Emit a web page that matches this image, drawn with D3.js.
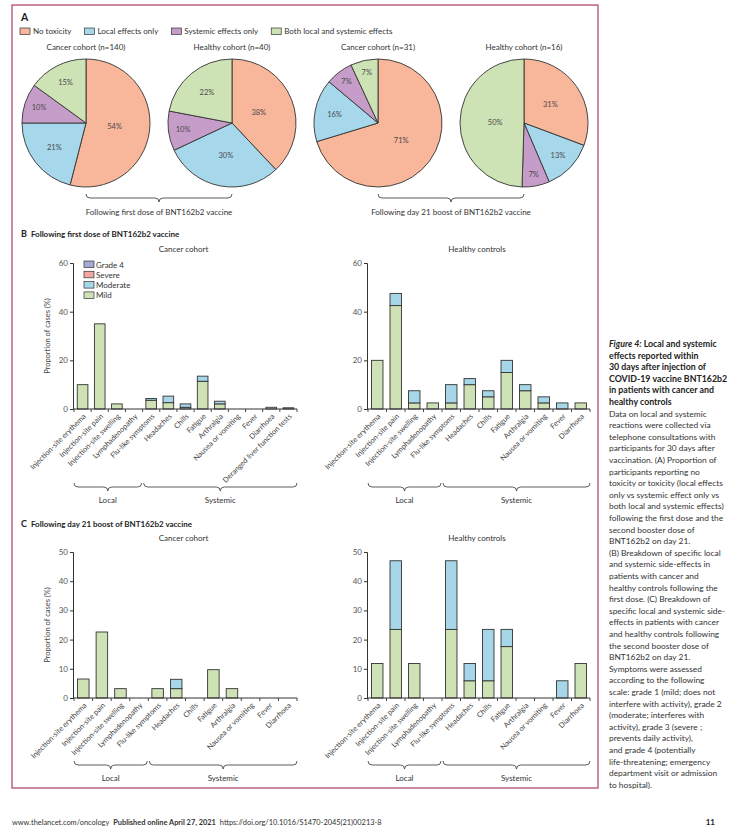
<!DOCTYPE html>
<html>
<head>
<meta charset="utf-8">
<script src="https://cdn.jsdelivr.net/npm/d3@7"></script>
<style>
  body { margin: 0; background: #fff; }
  svg text { font-family: Lato, "Open Sans", sans-serif; }
</style>
</head>
<body>
<svg id="fig" width="740" height="839"></svg>
<script>
// ---- data ----
const pieCategories = ['No toxicity', 'Local effects only', 'Systemic effects only', 'Both local and systemic effects'];
const pieTitles = ['Cancer cohort (n=140)', 'Healthy cohort (n=40)', 'Cancer cohort (n=31)', 'Healthy cohort (n=16)'];
const pieCancerFirst = [54, 21, 10, 15];
const pieHealthyFirst = [38, 30, 10, 22];
const pieCancerBoost = [71, 16, 7, 7];
const pieHealthyBoost = [31, 13, 7, 50];
const doseLabels = ['Following first dose of BNT162b2 vaccine', 'Following day 21 boost of BNT162b2 vaccine'];

const grades = ['Grade 4', 'Severe', 'Moderate', 'Mild'];
const groups = ['Local', 'Systemic'];

const symptomsWithLiver = ['Injection-site erythema', 'Injection-site pain', 'Injection-site swelling', 'Lymphadenopathy',
  'Flu-like symptoms', 'Headaches', 'Chills', 'Fatigue', 'Arthralgia', 'Nausea or vomiting', 'Fever', 'Diarrhoea',
  'Deranged liver function tests'];
const symptoms = ['Injection-site erythema', 'Injection-site pain', 'Injection-site swelling', 'Lymphadenopathy',
  'Flu-like symptoms', 'Headaches', 'Chills', 'Fatigue', 'Arthralgia', 'Nausea or vomiting', 'Fever', 'Diarrhoea'];
const localCount = 4;

const firstCancerMild     = [10, 35, 2.1, 0, 3.6, 2.6, 0.7, 11.4, 2.1, 0, 0, 0.7, 0.5];
const firstCancerModerate = [0, 0, 0, 0, 0.7, 2.7, 1.4, 2.1, 1.1, 0, 0, 0, 0];
const firstHealthyMild     = [20, 42.5, 2.5, 2.5, 2.5, 10, 5, 15, 7.5, 2.5, 0, 2.5];
const firstHealthyModerate = [0, 5, 5, 0, 7.5, 2.5, 2.5, 5, 2.5, 2.5, 2.5, 0];
const boostCancerMild     = [6.5, 22.6, 3.2, 0, 3.2, 3.2, 0, 9.7, 3.2, 0, 0, 0];
const boostCancerModerate = [0, 0, 0, 0, 0, 3.2, 0, 0, 0, 0, 0, 0];
const boostHealthyMild     = [11.8, 23.5, 11.8, 0, 23.5, 5.9, 5.9, 17.6, 0, 0, 0, 11.8];
const boostHealthyModerate = [0, 23.5, 0, 0, 23.5, 5.9, 17.6, 5.9, 0, 0, 5.9, 0];

const captionTitle = ['Figure 4: Local and systemic', 'effects reported within', '30 days after injection of',
  'COVID-19 vaccine BNT162b2', 'in patients with cancer and', 'healthy controls'];
const captionBody = ['Data on local and systemic', 'reactions were collected via', 'telephone consultations with',
  'participants for 30 days after', 'vaccination. (A) Proportion of', 'participants reporting no',
  'toxicity or toxicity (local effects', 'only vs systemic effect only vs', 'both local and systemic effects)',
  'following the first dose and the', 'second booster dose of', 'BNT162b2 on day 21.',
  '(B) Breakdown of specific local', 'and systemic side-effects in', 'patients with cancer and',
  'healthy controls following the', 'first dose. (C) Breakdown of', 'specific local and systemic side-',
  'effects in patients with cancer', 'and healthy controls following', 'the second booster dose of',
  'BNT162b2 on day 21.', 'Symptoms were assessed', 'according to the following',
  'scale: grade 1 (mild; does not', 'interfere with activity), grade 2', '(moderate; interferes with',
  'activity), grade 3 (severe ;', 'prevents daily activity),', 'and grade 4 (potentially',
  'life-threatening; emergency', 'department visit or admission', 'to hospital).'];

// ---- styling ----
const pieColors = ['#f8b69a', '#a6d7ea', '#c59dc8', '#cee3b5'];
const gradeColor = d3.scaleOrdinal().domain(grades).range(['#a5aad4', '#f2a7a1', '#a7d6e9', '#cfe2b6']);
const ink = '#333';

const svg = d3.select('#fig');

svg.append('rect')
  .attr('x', 12).attr('y', 5).attr('width', 586).attr('height', 783)
  .attr('fill', 'none').attr('stroke', '#b9587f').attr('stroke-width', 1.4);

// curly brace opening upward, tip pointing down
function brace(g, x0, x1, y) {
  let m = (x0 + x1) / 2, c = 4;
  let p = d3.path();
  p.moveTo(x0, y - c);
  p.quadraticCurveTo(x0, y, x0 + c, y);
  p.lineTo(m - c, y);
  p.quadraticCurveTo(m, y, m, y + c);
  p.quadraticCurveTo(m, y, m + c, y);
  p.lineTo(x1 - c, y);
  p.quadraticCurveTo(x1, y, x1, y - c);
  g.append('path').attr('d', p.toString())
    .attr('fill', 'none').attr('stroke', ink).attr('stroke-width', 0.8);
}

// ---- panel A ----
svg.append('text').text('A')
  .attr('x', 21).attr('y', 21)
  .attr('font-size', 10.5).attr('font-weight', 'bold').attr('fill', '#222');

let legendX = 20;
pieCategories.forEach((c, i) => {
  svg.append('rect')
    .attr('x', legendX).attr('y', 28).attr('width', 10).attr('height', 6.5)
    .attr('fill', pieColors[i]).attr('stroke', ink).attr('stroke-width', 0.7);
  let t = svg.append('text').text(c)
    .attr('x', legendX + 13).attr('y', 34)
    .attr('font-size', 8).attr('fill', ink);
  legendX += 13 + t.node().getComputedTextLength() + 13;
});

const pieData = [pieCancerFirst, pieHealthyFirst, pieCancerBoost, pieHealthyBoost];
const pieR = 64, pieCy = 123;
const pieX = d3.scalePoint().domain(d3.range(pieData.length)).range([86, 524]);
const pie = d3.pie().sort(null).value(d => d);
const arc = d3.arc().innerRadius(0).outerRadius(pieR);

pieData.forEach((values, i) => {
  let total = d3.sum(values);
  let g = svg.append('g').attr('transform', 'translate(' + pieX(i) + ',' + pieCy + ')');

  g.append('text').text(pieTitles[i])
    .attr('x', 0).attr('y', -pieR - 9)
    .attr('text-anchor', 'middle').attr('font-size', 8).attr('fill', ink);

  let slices = pie(values);
  g.selectAll('path')
    .data(slices)
    .enter().append('path')
    .attr('d', arc)
    .attr('fill', (d, j) => pieColors[j])
    .attr('stroke', ink).attr('stroke-width', 0.9);

  g.selectAll('text.pct')
    .data(slices)
    .enter().append('text')
    .attr('class', 'pct')
    .text(d => d.value + '%')
    .attr('transform', d => {
      let frac = d.value / total;
      let rl = pieR * Math.max(0.45, 0.9 - 1.3 * frac);
      let a = (d.startAngle + d.endAngle) / 2;
      return 'translate(' + (Math.sin(a) * rl) + ',' + (-Math.cos(a) * rl) + ')';
    })
    .attr('dy', '0.35em')
    .attr('text-anchor', 'middle').attr('font-size', 7.5).attr('fill', '#4a4a4a');
});

doseLabels.forEach((label, k) => {
  let x0 = pieX(2 * k), x1 = pieX(2 * k + 1);
  brace(svg, x0, x1, 198);
  svg.append('text').text(label)
    .attr('x', (x0 + x1) / 2).attr('y', 215)
    .attr('text-anchor', 'middle').attr('font-size', 8).attr('fill', ink);
});

// ---- panels B and C ----
function panelHeading(letter, text, y) {
  let t = svg.append('text').attr('x', 21).attr('y', y)
    .attr('font-size', 8).attr('font-weight', 'bold').attr('fill', '#222');
  t.append('tspan').text(letter).attr('font-size', 9);
  t.append('tspan').text(' ' + text).attr('dx', 2);
}

function barChart(opts) {
  let rows = opts.categories.map((c, i) => ({
    name: c, Mild: opts.mild[i], Moderate: opts.moderate[i], Severe: 0, 'Grade 4': 0
  }));
  let x = d3.scaleBand().domain(opts.categories)
    .range([opts.x0, opts.x1]).paddingInner(0.38).paddingOuter(0.19);
  let y = d3.scaleLinear().domain([0, opts.max]).range([opts.yBottom, opts.yTop]);
  let g = svg.append('g');

  g.append('text').text(opts.title)
    .attr('x', (opts.x0 + opts.x1) / 2 - 2).attr('y', opts.yTop - 11)
    .attr('text-anchor', 'middle').attr('font-size', 8).attr('fill', ink);

  let stack = d3.stack().keys(['Mild', 'Moderate', 'Severe', 'Grade 4'])(rows);
  g.selectAll('g.layer')
    .data(stack)
    .enter().append('g')
    .attr('class', 'layer')
    .attr('fill', d => gradeColor(d.key))
    .selectAll('rect')
    .data(d => d.filter(s => s[1] - s[0] > 0))
    .enter().append('rect')
    .attr('x', d => x(d.data.name))
    .attr('width', x.bandwidth())
    .attr('y', d => y(d[1]))
    .attr('height', d => y(d[0]) - y(d[1]))
    .attr('stroke', ink).attr('stroke-width', 0.9);

  let yAxis = g.append('g')
    .attr('transform', 'translate(' + (opts.x0 - 1) + ',0)')
    .call(d3.axisLeft(y).tickValues(d3.range(0, opts.max + 1, opts.step)).tickSize(3).tickPadding(2));
  yAxis.select('.domain').attr('stroke', ink);
  yAxis.selectAll('.tick line').attr('stroke', ink);
  yAxis.selectAll('.tick text').attr('font-size', 8).attr('fill', '#555')
    .attr('font-family', 'Lato, sans-serif');

  // x axis line with ticks at band boundaries
  g.append('line')
    .attr('x1', opts.x0 - 1).attr('x2', opts.x1)
    .attr('y1', opts.yBottom).attr('y2', opts.yBottom)
    .attr('stroke', ink).attr('stroke-width', 1);
  g.selectAll('line.xtick')
    .data(d3.range(opts.categories.length + 1))
    .enter().append('line')
    .attr('class', 'xtick')
    .attr('x1', i => opts.x0 + i * x.step()).attr('x2', i => opts.x0 + i * x.step())
    .attr('y1', opts.yBottom).attr('y2', opts.yBottom + 3)
    .attr('stroke', ink).attr('stroke-width', 0.9);

  g.selectAll('text.xlab')
    .data(opts.categories)
    .enter().append('text')
    .attr('class', 'xlab')
    .text(d => d)
    .attr('transform', d => 'translate(' + (x(d) + x.bandwidth() / 2 + 2) + ',' + (opts.yBottom + 6) + ') rotate(-45)')
    .attr('dy', '0.35em')
    .attr('text-anchor', 'end').attr('font-size', 7.4).attr('fill', '#444');

  if (opts.yLabel) {
    g.append('text').text('Proportion of cases (%)')
      .attr('transform', 'translate(' + (opts.x0 - 24) + ',' + ((opts.yTop + opts.yBottom) / 2) + ') rotate(-90)')
      .attr('text-anchor', 'middle').attr('font-size', 7.5).attr('fill', '#444');
  }

  if (opts.legend) {
    let lg = g.append('g').attr('transform', 'translate(' + (opts.x0 + 10) + ',' + (opts.yTop - 2) + ')');
    grades.forEach((gr, i) => {
      lg.append('rect')
        .attr('x', 0).attr('y', i * 10.3).attr('width', 10).attr('height', 6.5)
        .attr('fill', gradeColor(gr)).attr('stroke', ink).attr('stroke-width', 0.7);
      lg.append('text').text(gr)
        .attr('x', 12).attr('y', i * 10.3 + 6.5)
        .attr('font-size', 8).attr('fill', ink);
    });
  }

  let split = opts.x0 + localCount * x.step();
  let spans = [[opts.x0, split - 1], [split + 1, opts.x1]];
  groups.forEach((grp, i) => {
    brace(g, spans[i][0], spans[i][1], opts.braceY);
    g.append('text').text(grp)
      .attr('x', (spans[i][0] + spans[i][1]) / 2).attr('y', opts.braceY + 16)
      .attr('text-anchor', 'middle').attr('font-size', 8).attr('fill', ink);
  });
}

panelHeading('B', 'Following first dose of BNT162b2 vaccine', 237);
barChart({ title: 'Cancer cohort', categories: symptomsWithLiver, mild: firstCancerMild, moderate: firstCancerModerate,
  x0: 74, x1: 297, yTop: 263, yBottom: 409, max: 60, step: 20, yLabel: true, legend: true, braceY: 487 });
barChart({ title: 'Healthy controls', categories: symptoms, mild: firstHealthyMild, moderate: firstHealthyModerate,
  x0: 368, x1: 590, yTop: 263, yBottom: 409, max: 60, step: 20, braceY: 487 });

panelHeading('C', 'Following day 21 boost of BNT162b2 vaccine', 527);
barChart({ title: 'Cancer cohort', categories: symptoms, mild: boostCancerMild, moderate: boostCancerModerate,
  x0: 74, x1: 297, yTop: 552, yBottom: 698, max: 50, step: 10, yLabel: true, braceY: 765 });
barChart({ title: 'Healthy controls', categories: symptoms, mild: boostHealthyMild, moderate: boostHealthyModerate,
  x0: 368, x1: 590, yTop: 552, yBottom: 698, max: 50, step: 10, braceY: 765 });

// ---- caption ----
const lineH = 11.6;
captionTitle.forEach((line, i) => {
  let t = svg.append('text').attr('x', 609).attr('y', 347 + i * lineH)
    .attr('font-size', 8.8).attr('font-weight', 'bold').attr('fill', '#222');
  if (i === 0) {
    t.append('tspan').text('Figure 4:').attr('font-style', 'italic');
    t.append('tspan').text(line.replace('Figure 4:', ''));
  } else {
    t.text(line);
  }
});
captionBody.forEach((line, i) => {
  svg.append('text').text(line)
    .attr('x', 609).attr('y', 347 + (captionTitle.length + i) * lineH)
    .attr('font-size', 8.4).attr('fill', '#333');
});

// ---- footer ----
const footerParts = [['www.thelancet.com/oncology', 'normal'], ['Published online April 27, 2021', 'bold'],
  ['https://doi.org/10.1016/S1470-2045(21)00213-8', 'normal']];
let fx = 12;
footerParts.forEach(p => {
  let t = svg.append('text').text(p[0])
    .attr('x', fx).attr('y', 825)
    .attr('font-size', 7.4).attr('font-weight', p[1]).attr('fill', '#333');
  fx += t.node().getComputedTextLength() + 4;
});
svg.append('text').text('11')
  .attr('x', 715).attr('y', 825).attr('text-anchor', 'end')
  .attr('font-size', 8).attr('font-weight', 'bold').attr('fill', '#222');
</script>
</body>
</html>
